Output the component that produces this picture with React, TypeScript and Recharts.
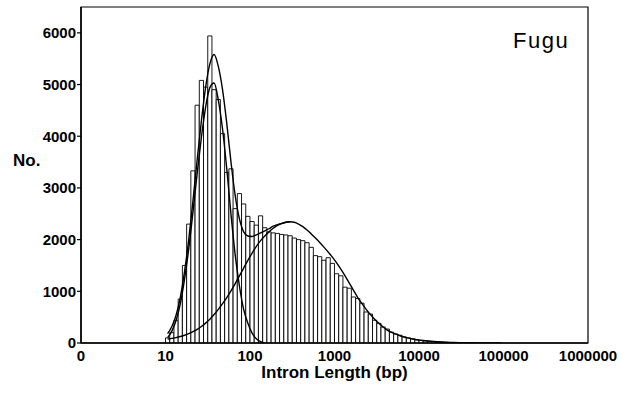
import React from "react";
import {
  Bar,
  ComposedChart,
  Line,
  ReferenceArea,
  XAxis,
  YAxis,
} from "recharts";

// histogram bins: centre of each bin in log10(bp), 0.05 wide
const binCenters = [
  1.025, 1.075, 1.125, 1.175, 1.225, 1.275, 1.325, 1.375, 1.425, 1.475,
  1.525, 1.575, 1.625, 1.675, 1.725, 1.775, 1.825, 1.875, 1.925, 1.975,
  2.025, 2.075, 2.125, 2.175, 2.225, 2.275, 2.325, 2.375, 2.425, 2.475,
  2.525, 2.575, 2.625, 2.675, 2.725, 2.775, 2.825, 2.875, 2.925, 2.975,
  3.025, 3.075, 3.125, 3.175, 3.225, 3.275, 3.325, 3.375, 3.425, 3.475,
  3.525, 3.575, 3.625, 3.675, 3.725, 3.775, 3.825, 3.875, 3.925, 3.975,
  4.025, 4.075, 4.125, 4.175, 4.225, 4.275, 4.325, 4.375, 4.425, 4.475,
  4.525, 4.575, 4.625,
];

const binCounts = [
  100, 200, 440, 850, 1500, 2300, 3330, 4600, 5080, 4950,
  5940, 4900, 4710, 4050, 3300, 3370, 2600, 2890, 2690, 2450,
  2350, 2280, 2460, 2230, 2150, 2130, 2120, 2100, 2090, 2075,
  2030, 2000, 1980, 1940, 1850, 1690, 1670, 1600, 1650, 1540,
  1340, 1300, 1080, 1060, 890, 860, 770, 600, 560, 440,
  380, 310, 270, 210, 175, 150, 120, 100, 80, 60,
  50, 40, 30, 25, 20, 15, 12, 10, 8, 6,
  5, 4, 3,
];

// fitted curves, sampled at bin centres
const curveX = [
  1.025, 1.075, 1.125, 1.175, 1.225, 1.275, 1.325, 1.375, 1.425, 1.475,
  1.525, 1.575, 1.625, 1.675, 1.725, 1.775, 1.825, 1.875, 1.925, 1.975,
  2.025, 2.075, 2.125, 2.175, 2.225, 2.275, 2.325, 2.375, 2.425, 2.475,
  2.525, 2.575, 2.625, 2.675, 2.725, 2.775, 2.825, 2.875, 2.925, 2.975,
  3.025, 3.075, 3.125, 3.175, 3.225, 3.275, 3.325, 3.375, 3.425, 3.475,
  3.525, 3.575, 3.625, 3.675, 3.725, 3.775, 3.825, 3.875, 3.925, 3.975,
  4.075, 4.175, 4.275, 4.375, 4.475, 4.575, 4.675, 4.775, 4.875, 4.975,
];

const shortIntrons = [
  105, 230, 435, 755, 1230, 1820, 2530, 3285, 3980, 4565,
  4940, 5030, 4700, 4140, 3370, 2490, 1700, 1100, 650, 380,
  190, 80, 25, 0,
];

const longIntrons = [
  75, 90, 105, 125, 150, 180, 220, 265, 320, 385,
  460, 550, 650, 760, 880, 1010, 1150, 1300, 1450, 1600,
  1740, 1870, 1980, 2070, 2150, 2220, 2275, 2310, 2335, 2345,
  2335, 2300, 2250, 2185, 2110, 2030, 1945, 1855, 1760, 1660,
  1550, 1430, 1300, 1160, 1020, 880, 760, 650, 550, 460,
  380, 310, 250, 205, 170, 140, 115, 95, 78, 64,
  44, 30, 20, 13, 8, 5, 3, 2, 1, 0,
];

const combined = [
  180, 320, 540, 880, 1380, 2000, 2750, 3550, 4300, 4950,
  5400, 5580, 5350, 4900, 4250, 3500, 2850, 2400, 2150, 2070,
  2060, 2090, 2130, 2170, 2210, 2260, 2290, 2315, 2335, 2345,
];

const xTicks = [0, 1, 2, 3, 4, 5, 6];
const xTickLabels = ["0", "10", "100", "1000", "10000", "100000", "1000000"];
const yTicks = [0, 1000, 2000, 3000, 4000, 5000, 6000];

type Row = {
  x: number;
  count?: number;
  short?: number;
  long?: number;
  sum?: number;
};

const key = (v: number) => v.toFixed(3);
const rowMap = new Map<string, Row>();
const rowFor = (x: number) => {
  const k = key(x);
  if (!rowMap.has(k)) rowMap.set(k, { x });
  return rowMap.get(k) as Row;
};
binCenters.forEach((x, i) => (rowFor(x).count = binCounts[i]));
curveX.forEach((x, i) => {
  const r = rowFor(x);
  r.long = longIntrons[i];
  if (i < shortIntrons.length) r.short = shortIntrons[i];
  if (i < combined.length) r.sum = combined[i];
});
const data = Array.from(rowMap.values()).sort((a, b) => a.x - b.x);

const tickStyle = { fill: "#000", fontSize: 15, fontWeight: "bold" };

export default function App() {
  return (
    <div
      style={{
        position: "absolute",
        left: 0,
        top: 0,
        width: 622,
        height: 394,
        background: "#fff",
        fontFamily: "'Liberation Sans', Arial, sans-serif",
      }}
    >
      <ComposedChart
        width={622}
        height={394}
        data={data}
        margin={{ top: 7, right: 34, bottom: 15, left: 11 }}
      >
        <XAxis
          dataKey="x"
          type="number"
          domain={[0, 6]}
          ticks={xTicks}
          allowDataOverflow
          tickFormatter={(v, i) => xTickLabels[i]}
          tick={tickStyle}
          tickLine={false}
          tickSize={5}
          tickMargin={2}
          axisLine={{ stroke: "#000", strokeWidth: 1.5 }}
          height={36}
          label={{
            value: "Intron Length (bp)",
            position: "insideBottom",
            offset: 1,
            fill: "#000",
            fontSize: 17,
            fontWeight: "bold",
          }}
        />
        <YAxis
          type="number"
          domain={[0, 6500]}
          ticks={yTicks}
          allowDataOverflow
          tick={tickStyle}
          tickSize={4}
          tickMargin={1}
          tickLine={{ stroke: "#000", strokeWidth: 1.2 }}
          axisLine={{ stroke: "#000", strokeWidth: 1.5 }}
          width={70}
        />
        <Bar
          dataKey="count"
          fill="#fff"
          stroke="#000"
          strokeWidth={0.9}
          barSize={4.2}
          isAnimationActive={false}
        />
        <Line
          type="monotone"
          dataKey="long"
          stroke="#000"
          strokeWidth={1.4}
          dot={false}
          connectNulls
          isAnimationActive={false}
        />
        <Line
          type="monotone"
          dataKey="short"
          stroke="#000"
          strokeWidth={1.4}
          dot={false}
          connectNulls
          isAnimationActive={false}
        />
        <Line
          type="monotone"
          dataKey="sum"
          stroke="#000"
          strokeWidth={1.4}
          dot={false}
          connectNulls
          isAnimationActive={false}
        />
        <ReferenceArea
          x1={0}
          x2={6}
          y1={0}
          y2={6500}
          fill="none"
          stroke="#000"
          strokeWidth={1.2}
          ifOverflow="visible"
        />
      </ComposedChart>
      <div
        style={{
          position: "absolute",
          left: 13,
          top: 152,
          fontSize: 17,
          lineHeight: "17px",
          fontWeight: "bold",
          color: "#000",
        }}
      >
        No.
      </div>
      <div
        style={{
          position: "absolute",
          left: 513,
          top: 30,
          fontSize: 22,
          lineHeight: "22px",
          letterSpacing: 1.5,
          color: "#000",
        }}
      >
        Fugu
      </div>
    </div>
  );
}
